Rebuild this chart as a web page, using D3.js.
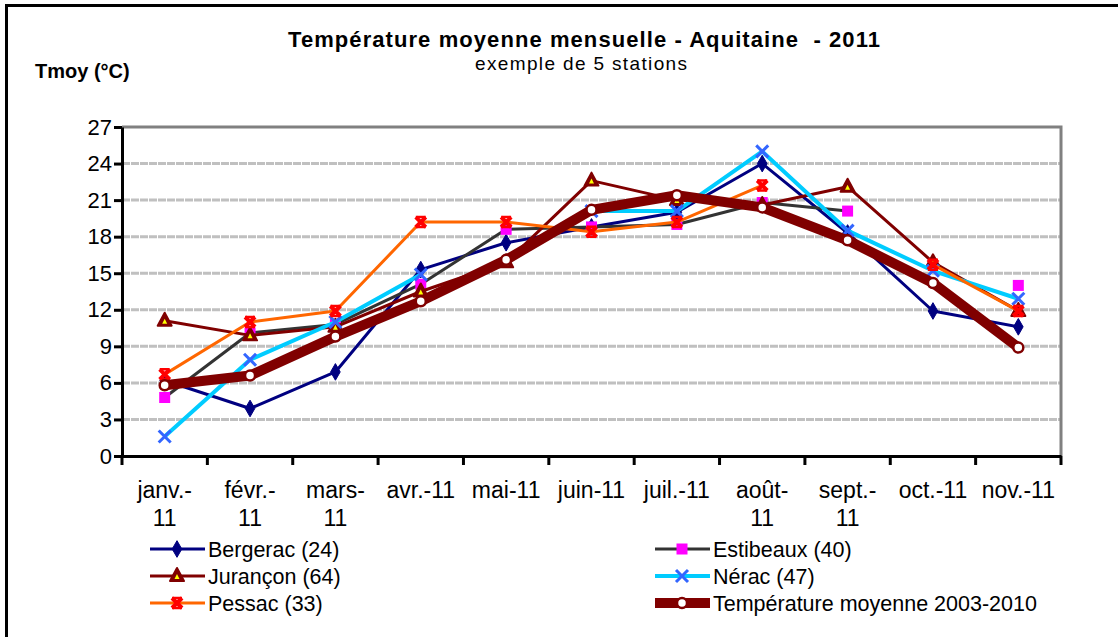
<!DOCTYPE html>
<html>
<head>
<meta charset="utf-8">
<script src="https://cdn.jsdelivr.net/npm/d3@7"></script>
<style>
  body { margin: 0; background: #fff; }
  text { font-family: "Liberation Sans", Arial, sans-serif; }
</style>
</head>
<body>
<script>
// chart size
var w = 1118;
var h = 637;

// data
var months = ["janv.-11", "févr.-11", "mars-11", "avr.-11", "mai-11", "juin-11",
              "juil.-11", "août-11", "sept.-11", "oct.-11", "nov.-11"];
// how each tick label is broken on two lines
var monthLabels = [["janv.-", "11"], ["févr.-", "11"], ["mars-", "11"], ["avr.-11"], ["mai-11"],
                   ["juin-11"], ["juil.-11"], ["août-", "11"], ["sept.-", "11"], ["oct.-11"], ["nov.-11"]];
var yTicks = [0, 3, 6, 9, 12, 15, 18, 21, 24, 27];

var bergerac  = [6.2, 3.9, 6.9, 15.3, 17.5, 18.8, 20.0, 24.0, 18.3, 11.9, 10.6];
var estibeaux = [4.8, 10.1, 10.8, 14.1, 18.6, 18.8, 19.0, 20.8, 20.1, null, 14.0];
var jurancon  = [11.1, 9.9, 10.6, 13.5, 15.9, 22.6, 21.0, 20.6, 22.1, 15.9, 11.9];
var nerac     = [1.6, 7.9, 11.0, 14.9, null, 20.1, 20.1, 25.0, 18.5, 15.2, 12.9];
var pessac    = [6.7, 11.0, 11.9, 19.2, 19.2, 18.4, 19.2, 22.2, null, 15.7, 11.9];
var moyenne   = [5.8, 6.6, 9.8, 12.7, 16.1, 20.2, 21.4, 20.4, 17.7, 14.2, 8.9];

var seriesNames = ["Bergerac (24)", "Estibeaux (40)", "Jurançon (64)", "Nérac (47)",
                   "Pessac (33)", "Température moyenne 2003-2010"];

var series = [
  { name: seriesNames[0], values: bergerac,  color: "#000080", width: 3, marker: "diamond", mFill: "#000080", mStroke: "#000080" },
  { name: seriesNames[1], values: estibeaux, color: "#333333", width: 3, marker: "square", mFill: "#ff00ff", mStroke: "#ff00ff" },
  { name: seriesNames[2], values: jurancon,  color: "#800000", width: 3, marker: "triangle", mFill: "#ffff00", mStroke: "#800000" },
  { name: seriesNames[3], values: nerac,     color: "#00ccff", width: 4, marker: "x", mFill: "none", mStroke: "#3366ff" },
  { name: seriesNames[4], values: pessac,    color: "#ff6600", width: 3, marker: "star", mFill: "#ff0000", mStroke: "#ff0000" },
  { name: seriesNames[5], values: moyenne,   color: "#800000", width: 10, marker: "circle", mFill: "#ffffff", mStroke: "#800000" }
];

var plotLeft = 122, plotRight = 1061, plotTop = 127, plotBottom = 456;

var svg = d3.select("body")
            .append("svg")
            .attr("width", w)
            .attr("height", h);

// outer frame (right and bottom edges are out of view)
svg.append("rect")
  .attr("x", 6.5).attr("y", 5.5)
  .attr("width", 1200).attr("height", 700)
  .attr("fill", "none")
  .attr("stroke", "#000")
  .attr("stroke-width", 3);

var x = d3.scaleBand()
  .domain(months)
  .range([plotLeft, plotRight]);

var y = d3.scaleLinear()
  .domain([0, 27])
  .range([plotBottom, plotTop]);

// gridlines
svg.append("g").selectAll("line")
  .data(yTicks.filter(function(d) { return d > 0 && d < 27; }))
  .enter()
  .append("line")
  .attr("x1", plotLeft).attr("x2", plotRight)
  .attr("y1", function(d) { return y(d); })
  .attr("y2", function(d) { return y(d); })
  .attr("stroke", "#c0c0c0")
  .attr("stroke-width", 3)
  .attr("stroke-dasharray", "8,1");

// plot border top and right
svg.append("path")
  .attr("d", "M" + plotLeft + "," + plotTop + "H" + plotRight + "V" + plotBottom)
  .attr("fill", "none")
  .attr("stroke", "#808080")
  .attr("stroke-width", 3);

// y axis
var yAxis = svg.append("g")
  .attr("transform", "translate(" + plotLeft + ",0)")
  .call(d3.axisLeft(y).tickValues(yTicks).tickSize(8).tickSizeOuter(0));
yAxis.select(".domain").attr("stroke", "#000").attr("stroke-width", 3);
yAxis.selectAll(".tick line").attr("stroke", "#000").attr("stroke-width", 3);
yAxis.selectAll(".tick text")
  .attr("x", -10)
  .attr("font-size", "22px")
  .attr("font-family", "Liberation Sans, Arial, sans-serif")
  .attr("fill", "#000");

// x axis
var xAxis = svg.append("g")
  .attr("transform", "translate(0," + plotBottom + ")")
  .call(d3.axisBottom(x).tickSize(0).tickSizeOuter(0).tickFormat(""));
xAxis.select(".domain").attr("stroke", "#000").attr("stroke-width", 3);

var bounds = months.map(function(m) { return x(m); }).concat([plotRight]);
xAxis.selectAll(".bnd")
  .data(bounds)
  .enter()
  .append("line")
  .attr("class", "bnd")
  .attr("x1", function(d) { return d; })
  .attr("x2", function(d) { return d; })
  .attr("y1", 0).attr("y2", 9)
  .attr("stroke", "#000")
  .attr("stroke-width", 3);

svg.append("g").selectAll("text")
  .data(months)
  .enter()
  .append("text")
  .attr("x", function(d) { return x(d) + x.bandwidth() / 2; })
  .attr("y", 498)
  .attr("text-anchor", "middle")
  .attr("font-size", "23px")
  .each(function(d, i) {
    var t = d3.select(this);
    monthLabels[i].forEach(function(part, j) {
      t.append("tspan")
        .attr("x", x(d) + x.bandwidth() / 2)
        .attr("dy", j == 0 ? 0 : 28)
        .text(part);
    });
  });

// markers
function drawMarker(g, type, fill, stroke) {
  if (type == "diamond") {
    g.append("path").attr("d", d3.symbol(d3.symbolDiamond, 80)())
      .attr("fill", fill).attr("stroke", stroke).attr("stroke-width", 1);
  } else if (type == "square") {
    g.append("rect").attr("x", -5.5).attr("y", -5.5).attr("width", 11).attr("height", 11)
      .attr("fill", fill);
  } else if (type == "triangle") {
    g.append("path").attr("d", "M0,-8L7,5L-7,5Z")
      .attr("fill", stroke).attr("stroke", stroke).attr("stroke-width", 2)
      .attr("stroke-linejoin", "round");
    g.append("path").attr("d", "M0,-2L2.5,3L-2.5,3Z").attr("fill", fill);
  } else if (type == "x") {
    g.append("path").attr("d", "M-6,-6L6,6M-6,6L6,-6")
      .attr("stroke", stroke).attr("stroke-width", 3);
  } else if (type == "star") {
    g.append("path").attr("d", "M-5,-5L5,5M-5,5L5,-5")
      .attr("stroke", stroke).attr("stroke-width", 4);
    g.append("path").attr("d", "M-5,-5H5M-5,5H5")
      .attr("stroke", stroke).attr("stroke-width", 2.5);
  } else if (type == "circle") {
    g.append("circle").attr("r", 5)
      .attr("fill", fill).attr("stroke", stroke).attr("stroke-width", 2.5);
  }
}

var line = d3.line()
  .defined(function(d) { return d != null; })
  .x(function(d, i) { return x(months[i]) + x.bandwidth() / 2; })
  .y(function(d) { return y(d); });

series.forEach(function(s) {
  var g = svg.append("g");
  g.append("path")
    .attr("d", line(s.values))
    .attr("fill", "none")
    .attr("stroke", s.color)
    .attr("stroke-width", s.width)
    .attr("stroke-linejoin", "round");
  s.values.forEach(function(v, i) {
    if (v == null) return;
    var m = g.append("g")
      .attr("transform", "translate(" + (x(months[i]) + x.bandwidth() / 2) + "," + y(v) + ")");
    drawMarker(m, s.marker, s.mFill, s.mStroke);
  });
});

// titles
svg.append("text")
  .attr("x", 584).attr("y", 47)
  .attr("text-anchor", "middle")
  .attr("font-size", "22px")
  .attr("font-weight", "bold")
  .attr("textLength", 592)
  .attr("lengthAdjust", "spacing")
  .style("white-space", "pre")
  .text("Température moyenne mensuelle - Aquitaine  - 2011");

svg.append("text")
  .attr("x", 581).attr("y", 70)
  .attr("text-anchor", "middle")
  .attr("font-size", "19px")
  .attr("textLength", 212)
  .attr("lengthAdjust", "spacing")
  .text("exemple de 5 stations");

svg.append("text")
  .attr("x", 35).attr("y", 78)
  .attr("font-size", "20px")
  .attr("font-weight", "bold")
  .text("Tmoy (°C)");

// legend
var legend = svg.append("g").selectAll("g")
  .data(series)
  .enter()
  .append("g")
  .attr("transform", function(d, i) {
    var col = i % 2, row = Math.floor(i / 2);
    return "translate(" + (col == 0 ? 150 : 655) + "," + (549 + row * 27) + ")";
  });

legend.append("line")
  .attr("x1", 0).attr("x2", 55)
  .attr("stroke", function(d) { return d.color; })
  .attr("stroke-width", function(d) { return d.width; });

legend.each(function(d) {
  var m = d3.select(this).append("g").attr("transform", "translate(27,0)");
  drawMarker(m, d.marker, d.mFill, d.mStroke);
});

legend.append("text")
  .attr("x", 58)
  .attr("y", 7.5)
  .attr("font-size", "21.5px")
  .text(function(d) { return d.name; });
</script>
</body>
</html>
